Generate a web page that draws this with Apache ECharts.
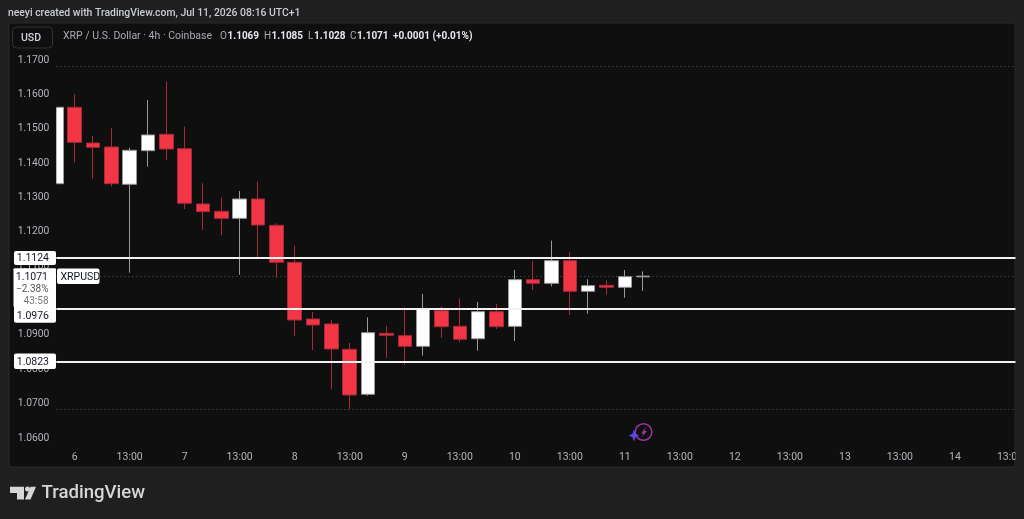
<!DOCTYPE html>
<html><head><meta charset="utf-8">
<style>html,body{margin:0;padding:0;background:#1f1f1f}#c{width:1024px;height:519px}</style>
<script src="https://cdn.jsdelivr.net/npm/echarts@6/dist/echarts.min.js"></script>
</head><body><div id="c"></div>
<script>
// open, close, low, high
const candles = [
 [1.13401,1.15624,1.13401,1.15624],
 [1.15624,1.14605,1.14023,1.16002],
 [1.14585,1.14460,1.13546,1.14788],
 [1.14468,1.13401,1.13313,1.15021],
 [1.13383,1.14372,1.10810,1.14448],
 [1.14361,1.14818,1.13895,1.15836],
 [1.14838,1.14410,1.14090,1.16369],
 [1.14419,1.12830,1.12664,1.15059],
 [1.12810,1.12586,1.12053,1.13412],
 [1.12597,1.12393,1.11899,1.12993],
 [1.12393,1.12955,1.10752,1.13188],
 [1.12955,1.12198,1.11259,1.13459],
 [1.12190,1.11113,1.10665,1.12248],
 [1.11113,1.09434,1.08968,1.11596],
 [1.09463,1.09289,1.08561,1.09667],
 [1.09318,1.08590,1.07417,1.09434],
 [1.08581,1.07252,1.06835,1.08765],
 [1.07272,1.09064,1.07231,1.09512],
 [1.09047,1.08989,1.08328,1.09259],
 [1.08977,1.08669,1.08125,1.09804],
 [1.08669,1.09745,1.08395,1.10191],
 [1.09705,1.09239,1.08919,1.09832],
 [1.09250,1.08872,1.08785,1.10065],
 [1.08890,1.09676,1.08541,1.09958],
 [1.09676,1.09239,1.09172,1.09900],
 [1.09250,1.10607,1.08823,1.10889],
 [1.10607,1.10502,1.10307,1.11160],
 [1.10502,1.11160,1.10415,1.11742],
 [1.11160,1.10269,1.09580,1.11404],
 [1.10269,1.10433,1.09618,1.10619],
 [1.10444,1.10386,1.10170,1.10578],
 [1.10386,1.10695,1.10083,1.10889],
 [1.1069,1.1071,1.1028,1.1085]
];
const xLabels = ['','6','','','13:00','','','7','','','13:00','','','8','','','13:00','','','9','','','13:00','','','10','','','13:00','','','11','','','13:00','','','12','','','13:00','','','13','','','13:00','','','14','','','13:00',''];
const levels = [1.1124,1.0976,1.0823];
const levelLabels = ['1.1124','1.0976','1.0823'];
const dottedLevels = [1.16825,1.1071,1.06837];
const FONT = 'Roboto, sans-serif';
const BG='#0f0f0f', PAGE='#1f1f1f', TXT='#b2b5be';

const chart = echarts.init(document.getElementById('c'),null,{renderer:'canvas'});
function box(x,y,w,h,r){return {type:'rect',z:50,shape:{x,y,width:w,height:h,r:r||0},style:{fill:'#fff'}};}
function txt(x,y,t,o){return {type:'text',z:60,x,y,style:Object.assign({text:t,fill:'#131722',font:'400 10.5px '+FONT,verticalAlign:'middle',align:'left'},o||{})};}
chart.setOption({
 animation:false,
 backgroundColor:PAGE,
 grid:{left:56.3,top:60,width:972,height:378,show:false,outerBoundsMode:'none',containLabel:false},
 xAxis:{type:'category',boundaryGap:false,data:xLabels,
  axisLine:{show:false},axisTick:{show:false},splitLine:{show:false},
  axisLabel:{interval:0,color:TXT,fontFamily:FONT,fontSize:10.5,margin:14,hideOverlap:false,showMinLabel:true,showMaxLabel:true,align:'center'}},
 yAxis:{type:'value',min:1.06,max:1.17,interval:0.01,scale:true,z:20,
  axisLine:{show:false},axisTick:{show:false},splitLine:{show:false},
  axisLabel:{color:TXT,fontFamily:FONT,fontSize:10.3,margin:7,padding:[1,0,0,0],formatter:v=>v.toFixed(4)}},
 series:[{
  type:'candlestick',z:3,barWidth:14,data:candles,
  itemStyle:{color:'#ffffff',borderColor:'#9a9a9a',color0:'#f23645',borderColor0:'#a82a38',borderWidth:1},
  markLine:{silent:true,symbol:'none',z:2,precision:6,animation:false,label:{show:false},
   data:dottedLevels.map(v=>({yAxis:v,lineStyle:{color:'#55585e',width:1,type:[1,3]}}))}
 },{
  type:'line',z:5,data:[],
  markLine:{silent:true,symbol:'none',z:5,precision:6,animation:false,label:{show:false},
   data:levels.map(v=>({yAxis:v,lineStyle:{color:'#f2f2f2',width:2,type:'solid'}}))}
 }],
 graphic:{elements:[
  {type:'rect',z:-10,silent:true,shape:{x:9,y:23,width:1006,height:444},style:{fill:BG,stroke:'#2a2a2a',lineWidth:1}},
  {type:'rect',z:10,shape:{x:40,y:100,width:16.3,height:90},style:{fill:BG}},
  {type:'rect',z:40,shape:{x:1015.5,y:23,width:9,height:446},style:{fill:PAGE}},
  {type:'text',z:60,x:8,y:13,style:{text:'neeyi created with TradingView.com, Jul 11, 2026 08:16 UTC+1',fill:'#c9ccd4',font:'500 10.4px '+FONT,verticalAlign:'middle'}},
  {type:'rect',z:30,shape:{x:12.5,y:27,width:40,height:21,r:4},style:{fill:'#0f0f0f',stroke:'#333',lineWidth:1}},
  txt(21,38,'USD',{fill:'#d1d4dc',font:'500 10.5px '+FONT}),
  txt(63,36,'XRP / U.S. Dollar · 4h · Coinbase',{fill:'#a8abb3',font:'400 10.5px '+FONT}),
  txt(220,36,'O',{fill:'#a8abb3',font:'400 10px '+FONT}),
  txt(227.5,36,'1.1069',{fill:'#e6e8ee',font:'700 10px '+FONT}),
  txt(264,36,'H',{fill:'#a8abb3',font:'400 10px '+FONT}),
  txt(271.5,36,'1.1085',{fill:'#e6e8ee',font:'700 10px '+FONT}),
  txt(308,36,'L',{fill:'#a8abb3',font:'400 10px '+FONT}),
  txt(314,36,'1.1028',{fill:'#e6e8ee',font:'700 10px '+FONT}),
  txt(350,36,'C',{fill:'#a8abb3',font:'400 10px '+FONT}),
  txt(357,36,'1.1071',{fill:'#e6e8ee',font:'700 10px '+FONT}),
  txt(393,36,'+0.0001 (+0.01%)',{fill:'#e6e8ee',font:'700 10px '+FONT}),
  box(14,251,42,14,2),
  txt(49,258.5,levelLabels[0],{align:'right'}),
  box(13.5,268.3,42.5,39,1),
  txt(48,277,'1.1071',{align:'right'}),
  txt(48.5,289,'−2.38%',{align:'right',font:'400 10px '+FONT,fill:'#555'}),
  txt(48.5,301,'43:58',{align:'right',font:'400 10px '+FONT,fill:'#777'}),
  box(14,304,42,18.7,2),
  txt(49,316,levelLabels[1],{align:'right'}),
  box(14,353.5,42,15.5,2),
  txt(49,362,levelLabels[2],{align:'right'}),
  box(57,268.5,42.5,15.5,2),
  txt(60.5,277,'XRPUSD',{font:'400 10.5px '+FONT}),
  {type:'circle',z:30,shape:{cx:643.5,cy:432,r:8.3},style:{fill:'none',stroke:'#96389f',lineWidth:1.5}},
  {type:'polygon',z:30,shape:{points:[[646,427],[641,433.5],[643.5,433.5],[641.5,437.5],[647,431],[644.5,431]]},style:{fill:'#96389f'}},
  {type:'polygon',z:31,shape:{points:[[629.5,435.5],[632.8,434],[634,430.5],[635.2,434],[638.5,435.5],[635.2,437],[634,440.5],[632.8,437]]},style:{fill:'#5d45e8',stroke:'#5d45e8',lineWidth:0.8}},
  {type:'polygon',z:30,shape:{points:[[10,486.7],[24,486.7],[24,499.5],[17,499.5],[17,493],[10,493]]},style:{fill:'#d6d6d6'}},
  {type:'circle',z:30,shape:{cx:27.5,cy:489,r:2.5},style:{fill:'#d6d6d6'}},
  {type:'polygon',z:30,shape:{points:[[30.5,486.7],[36,486.7],[30.5,499.5],[25,499.5]]},style:{fill:'#d6d6d6'}},
  txt(41.5,493,'TradingView',{fill:'#d6d6d6',font:'500 18.6px '+FONT})
 ]}
});
</script></body></html>
